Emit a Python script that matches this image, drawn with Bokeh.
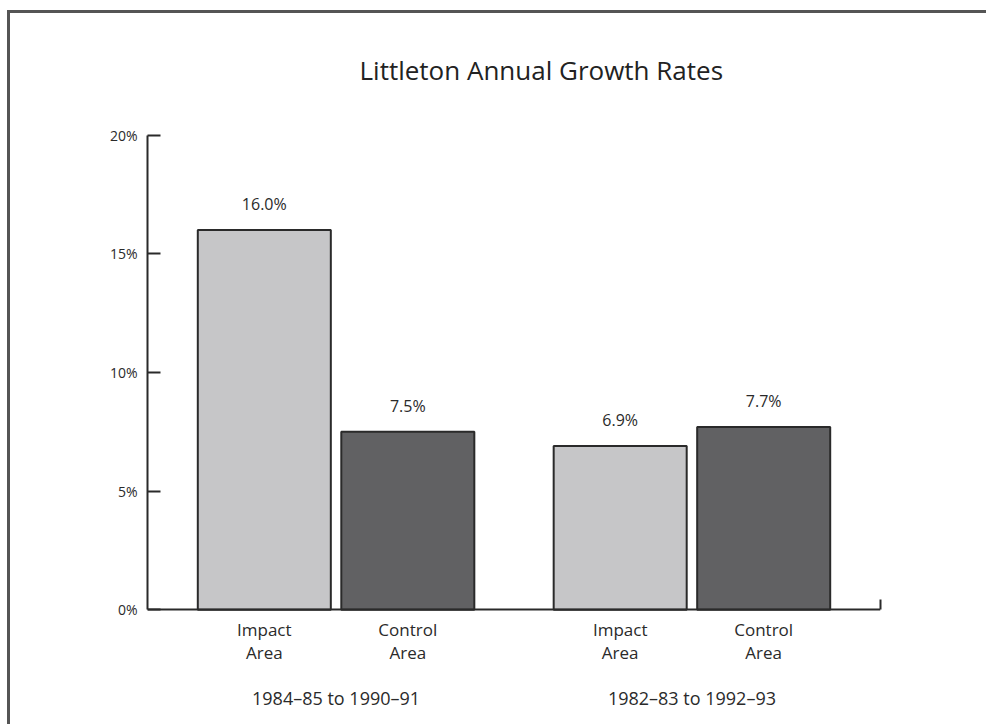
from bokeh.plotting import figure
from bokeh.models import (ColumnDataSource, FactorRange, FixedTicker, LinearAxis,
                          Range1d)
from bokeh.core.properties import value
from bokeh.embed import file_html
from bokeh.resources import INLINE

# --- data -------------------------------------------------------------
periods = ["1984\u201385 to 1990\u201391", "1982\u201383 to 1992\u201393"]
areas = ["Impact\nArea", "Control\nArea"]
growth = [16.0, 7.5, 6.9, 7.7]          # annual growth rate, percent
value_labels = ["16.0%", "7.5%", "6.9%", "7.7%"]
bar_colors = ["#c6c6c8", "#616163", "#c6c6c8", "#616163"]
y_ticks = [0, 5, 10, 15, 20]
y_tick_labels = ["0%", "5%", "10%", "15%", "20%"]

factors = [(p_, a) for p_ in periods for a in areas]
src = ColumnDataSource(dict(x=factors, top=growth, label=value_labels,
                            color=bar_colors, area=[a for _, a in factors]))
group_src = ColumnDataSource(dict(x=periods, y=[0] * len(periods), label=periods))

FONT = "Open Sans"
INK = "#2a2a2a"

x_range = FactorRange(*factors, factor_padding=0.0, group_padding=0.48,
                      range_padding=0.314, range_padding_units="absolute")

# the frame runs below the baseline so the category captions can sit inside it
p = figure(width=979, height=714, x_range=x_range, y_range=Range1d(-4.5, 21.5),
           x_axis_location=None,
           output_backend="svg", toolbar_location=None,
           min_border_left=137, min_border_right=109,
           min_border_top=86, min_border_bottom=11)
p.styles = {"margin-left": "7px", "margin-top": "10px",
            "border-left": "3px solid #555", "border-top": "3px solid #555"}

p.outline_line_color = None
p.xgrid.grid_line_color = None
p.ygrid.grid_line_color = None
p.background_fill_color = "white"

# title
p.title.text = "Littleton Annual Growth Rates"
p.title.align = "left"
p.title.text_font = FONT
p.title.text_font_size = "26px"
p.title.text_font_style = "normal"
p.title.text_color = "#222222"
p.title.standoff = 23
p.title.offset = 212

# bars
p.vbar(x="x", top="top", width=0.927, source=src, fill_color="color",
       line_color=INK, line_width=2)

# value labels above bars
p.text(x="x", y="top", text="label", source=src, y_offset=-15,
       text_align="center", text_baseline="bottom",
       text_font=value(FONT), text_font_size="16px", text_color=INK)

# category captions under each bar
p.text(x="x", y=0, text="area", source=src, y_offset=8,
       text_align="center", text_baseline="top", text_line_height=1.0,
       text_font=value(FONT), text_font_size="17px", text_color=INK)

# period captions under each pair of bars
p.text(x="x", y="y", text="label", source=group_src, y_offset=88,
       text_align="center", text_baseline="middle",
       text_font=value(FONT), text_font_size="18px", text_color=INK)

# y axis
ya = p.yaxis[0]
ya.bounds = (0, 20)
ya.ticker = FixedTicker(ticks=y_ticks)
ya.major_label_overrides = {t: s for t, s in zip(y_ticks, y_tick_labels)}
ya.major_tick_in = 13
ya.major_tick_out = 0
ya.minor_tick_line_color = None
ya.axis_line_color = INK
ya.axis_line_width = 2
ya.major_tick_line_color = INK
ya.major_tick_line_width = 2
ya.major_label_standoff = 10
ya.major_label_text_font = FONT
ya.major_label_text_font_size = "14px"
ya.major_label_text_color = INK

# baseline at zero
base_axis = LinearAxis(fixed_location=0, ticker=FixedTicker(ticks=[]),
                       axis_line_color=INK, axis_line_width=2,
                       major_tick_line_color=None, minor_tick_line_color=None)
p.add_layout(base_axis, "below")

# short end stop at the right end of the baseline
end_axis = LinearAxis(bounds=(0, 0.45), ticker=FixedTicker(ticks=[]),
                      axis_line_color=INK, axis_line_width=2,
                      major_tick_line_color=None, minor_tick_line_color=None)
p.add_layout(end_axis, "right")

open("out.html", "w").write(file_html(p, INLINE))
